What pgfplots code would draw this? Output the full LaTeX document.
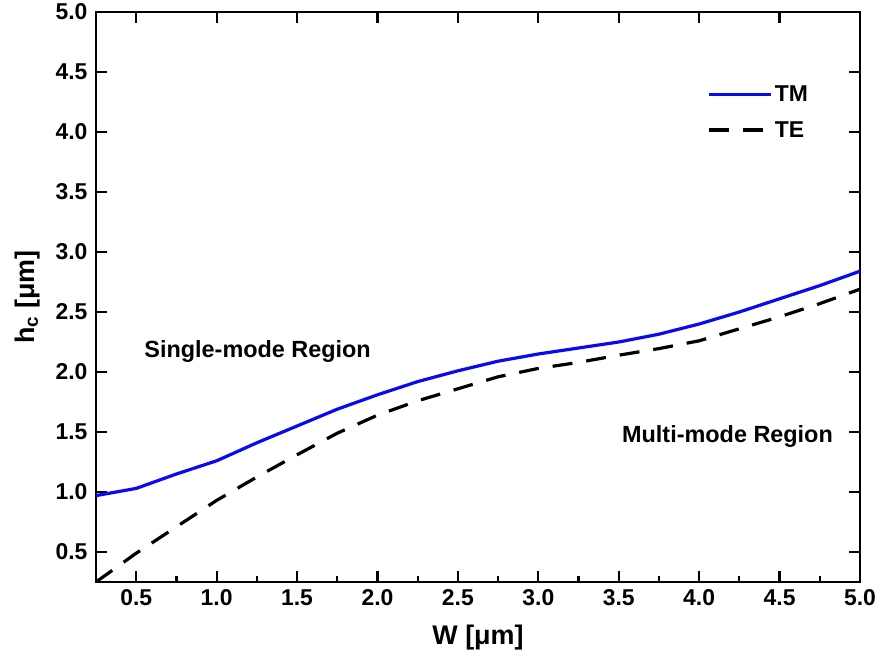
\documentclass[border=0pt]{standalone}
\usepackage{fontspec}
\setmainfont{Liberation Sans}
\usepackage{pgfplots}
\pgfplotsset{compat=1.18}
\definecolor{tmblue}{RGB}{10,10,240}
\begin{document}
\begin{tikzpicture}
\useasboundingbox (-96bp,-84bp) rectangle (784bp,582bp);
\pgfplotsset{
  common/.style={
    scale only axis,
    width=764bp, height=570bp,
    at={(0,0)}, anchor=south west,
    xmin=0.25, xmax=5, ymin=0.25, ymax=5,
    axis line style={line width=2.6bp},
    tick align=inside,
    tick style={line width=2.2bp, black},
  }
}
% minor ticks on bottom only
\begin{axis}[common,
  hide y axis,
  axis x line*=bottom,
  xtick={0.75,1.25,...,4.75},
  xticklabels={},
  major tick length=6bp,
  x axis line style={-},
]
\end{axis}
\begin{axis}[common,
  xtick={0.5,1.0,...,5.0},
  ytick={0.5,1.0,...,5.0},
  major tick length=11bp,
  tick label style={font=\fontsize{23}{26}\selectfont\bfseries},
  /pgf/number format/assume math mode=true,
  /pgf/number format/fixed,
  /pgf/number format/fixed zerofill,
  /pgf/number format/precision=1,
  xticklabel style={yshift=-4bp},
  yticklabel style={xshift=-5bp},
  xlabel={W [μm]},
  ylabel={h\textsubscript{c} [μm]},
  every axis x label/.style={at={(axis description cs:0.5,-0.097)}, anchor=center, font=\fontsize{27}{30}\selectfont\bfseries},
  every axis y label/.style={at={(axis description cs:-0.090,0.5)}, anchor=center, rotate=90, font=\fontsize{27}{30}\selectfont\bfseries},
  legend style={draw=none, fill=none, at={(0.80,0.874)}, anchor=north west,
    font=\fontsize{23}{26}\selectfont\bfseries, inner sep=0pt,
    row sep=14bp},
  legend cell align=left,
  legend image post style={line width=3.4bp},
  legend image code/.code={\draw[#1] (0bp,0bp) -- (62bp,0bp);},
]
\addplot[tmblue, line width=3.2bp, line join=round] coordinates {
(0.25,0.97) (0.5,1.03) (0.75,1.15) (1.0,1.26) (1.25,1.41) (1.5,1.55)
(1.75,1.69) (2.0,1.81) (2.25,1.92) (2.5,2.01) (2.75,2.09) (3.0,2.15)
(3.25,2.20) (3.5,2.25) (3.75,2.315) (4.0,2.40) (4.25,2.50) (4.5,2.61)
(4.75,2.72) (5.0,2.84)
};
\addlegendentry{TM}
\addplot[black, line width=3.2bp, dash pattern=on 20bp off 14bp] coordinates {
(0.25,0.25) (0.5,0.49) (0.75,0.71) (1.0,0.93) (1.25,1.125) (1.5,1.31)
(1.75,1.49) (2.0,1.64) (2.25,1.76) (2.5,1.86) (2.75,1.96) (3.0,2.03)
(3.25,2.08) (3.5,2.14) (3.75,2.195) (4.0,2.26) (4.25,2.36) (4.5,2.46)
(4.75,2.57) (5.0,2.69)
};
\addlegendentry{TE}
\node[anchor=west, font=\fontsize{23.5}{26}\selectfont\bfseries, inner sep=0pt] at (axis cs:0.55,2.17) {Single-mode Region};
\node[anchor=west, font=\fontsize{23.5}{26}\selectfont\bfseries, inner sep=0pt] at (axis cs:3.52,1.46) {Multi-mode Region};
\end{axis}
\end{tikzpicture}
\end{document}
